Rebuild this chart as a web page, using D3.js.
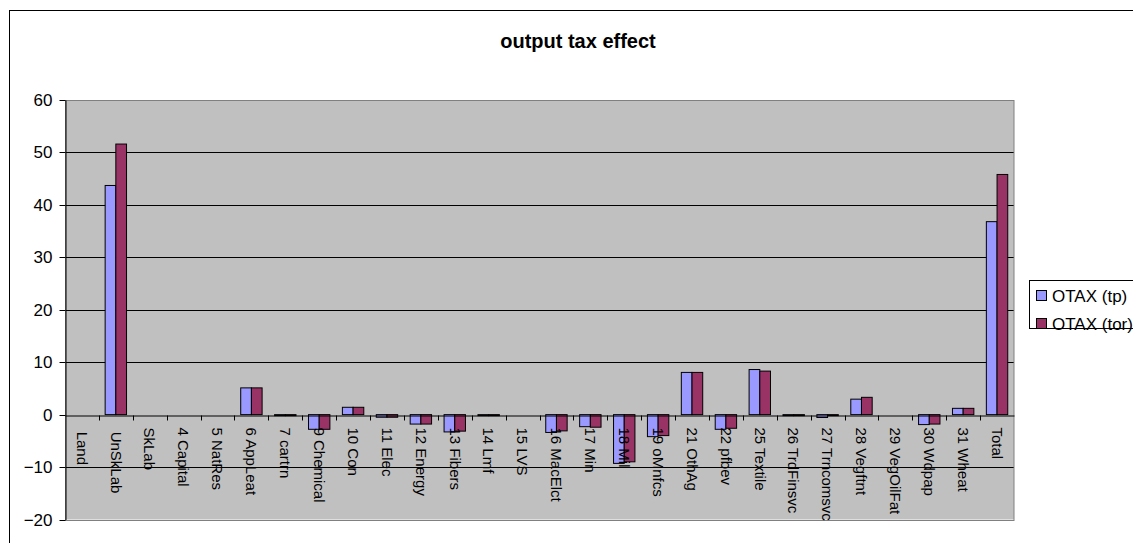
<!DOCTYPE html>
<html>
<head>
<meta charset="utf-8">
<script src="https://cdn.jsdelivr.net/npm/d3@7"></script>
<style>
  html, body { margin: 0; padding: 0; background: #fff; overflow: hidden; }
  svg { display: block; font-family: "Liberation Sans", Arial, sans-serif; }
</style>
</head>
<body>
<svg id="chart" width="1133" height="543"></svg>
<script>
const categories = [" Land", " UnSkLab", "SkLab", "4 Capital", "5 NatRes", "6 AppLeat", "7 cartrn",
  "9 Chemical", "10 Con", "11 Elec", "12 Energy", "13 Fibers", "14 Lmf", "15 LVS", "16 MacElct",
  "17 Min", "18 Mil", "19 oMnfcs", "21 OthAg", "22 pfbev", "25 Textile", "26 TrdFinsvc",
  "27 Trncomsvc", "28 Vegftnt", "29 VegOilFat", "30 Wdpap", "31 Wheat", "Total"];
const seriesNames = ["OTAX (tp)", "OTAX (tor)"];
const otaxTp  = [0, 43.7, 0, 0, 0, 5.1, -0.2, -2.8, 1.4, -0.5, -1.8, -3.3, -0.2, 0, -3.4,
  -2.3, -9.3, -4.2, 8.05, -2.8, 8.6, -0.2, -0.55, 2.95, 0, -1.9, 1.2, 36.8];
const otaxTor = [0, 51.6, 0, 0, 0, 5.1, -0.2, -2.8, 1.4, -0.5, -1.8, -3.15, -0.2, 0, -3.1,
  -2.4, -9.0, -4.0, 8.05, -2.6, 8.3, -0.2, -0.2, 3.3, 0, -1.8, 1.2, 45.8];
const yTicks = [-20, -10, 0, 10, 20, 30, 40, 50, 60];
const chartTitle = "output tax effect";

const colors = ["#9999FF", "#993366"];
const svg = d3.select("#chart");

// chart outer border
svg.append("rect").attr("x", 9.5).attr("y", 10.5).attr("width", 1200).attr("height", 600)
  .attr("fill", "#fff").attr("stroke", "#000").attr("stroke-width", 1);

const L = 65, R = 1014, T = 100, B = 519.5;
const x = d3.scaleBand().domain(categories).range([L, R]).paddingInner(0).paddingOuter(0);
const xs = d3.scaleBand().domain(seriesNames).range([0, x.bandwidth()]).paddingInner(0).paddingOuter(0.584);
const y = d3.scaleLinear().domain([-20, 60]).range([B, T]);
const crisp = v => Math.round(v) + 0.5;

// plot background
svg.append("rect").attr("x", L).attr("y", T).attr("width", R - L).attr("height", B - T)
  .attr("fill", "#C0C0C0");

// gridlines
svg.append("g").selectAll("line").data(yTicks.filter(t => t !== 60 && t !== -20 && t !== 0)).join("line")
  .attr("x1", L).attr("x2", R).attr("y1", d => crisp(y(d))).attr("y2", d => crisp(y(d)))
  .attr("stroke", "#000").attr("stroke-width", 1);

// plot border (gray)
svg.append("rect").attr("x", L + 0.5).attr("y", crisp(T)).attr("width", R - L - 0.5).attr("height", crisp(B) - crisp(T))
  .attr("fill", "none").attr("stroke", "#808080").attr("stroke-width", 1);

// bars
const allSeries = [otaxTp, otaxTor];
const gBars = svg.append("g");
allSeries.forEach((vals, si) => {
  gBars.selectAll(null).data(vals.map((v, i) => ({ c: categories[i], v }))).join("rect")
    .attr("x", d => x(d.c) + xs(seriesNames[si]))
    .attr("width", xs.bandwidth())
    .attr("y", d => y(Math.max(0, d.v)))
    .attr("height", d => Math.abs(y(d.v) - y(0)))
    .attr("fill", colors[si]).attr("stroke", "#000").attr("stroke-width", 1);
});

// y axis
const yAxis = d3.axisLeft(y).tickValues(yTicks).tickSize(6).tickPadding(7).tickSizeOuter(0);
const gy = svg.append("g").attr("transform", `translate(${L + 0.5},0)`).call(yAxis);
gy.select(".domain").attr("stroke", "#000");
gy.selectAll(".tick line").attr("stroke", "#000");
gy.selectAll(".tick").attr("transform", d => `translate(0,${crisp(y(d))})`);
gy.selectAll("text").attr("font-size", 17).attr("font-family", "'Liberation Sans', Arial, sans-serif")
  .attr("fill", "#000").attr("dy", "0.35em");

// x axis at zero
const xAxis = d3.axisBottom(x).tickSize(0).tickSizeOuter(0).tickFormat("");
const gx = svg.append("g").attr("transform", `translate(0,${crisp(y(0))})`).call(xAxis);
gx.select(".domain").attr("stroke", "#000");
gx.selectAll(".tick").remove();
// ticks at category boundaries
gx.selectAll("line.bt").data(categories.slice(1)).join("line").attr("class", "bt")
  .attr("x1", d => crisp(x(d))).attr("x2", d => crisp(x(d))).attr("y1", 0).attr("y2", 5)
  .attr("stroke", "#000");
// category labels
gx.selectAll("text.cl").data(categories).join("text").attr("class", "cl")
  .attr("transform", d => `translate(${x(d) + x.bandwidth() / 2},12) rotate(90)`)
  .attr("text-anchor", "start").attr("dy", "0.35em")
  .attr("font-size", 15).attr("fill", "#000")
  .style("white-space", "pre")
  .text(d => d);

// title
svg.append("text").attr("x", 578).attr("y", 48).attr("text-anchor", "middle")
  .attr("font-size", 20).attr("font-weight", "bold").attr("fill", "#000").text(chartTitle);

// legend
const lg = svg.append("g");
lg.append("rect").attr("x", 1029.5).attr("y", 280.5).attr("width", 150).attr("height", 48)
  .attr("fill", "#fff").attr("stroke", "#000");
seriesNames.forEach((s, i) => {
  const cy = 296 + i * 28;
  lg.append("rect").attr("x", 1036.5).attr("y", cy - 5.5).attr("width", 10).attr("height", 10)
    .attr("fill", colors[i]).attr("stroke", "#000");
  lg.append("text").attr("x", 1052).attr("y", cy).attr("dy", "0.35em")
    .attr("font-size", 17).attr("fill", "#000").text(s);
});
</script>
</body>
</html>
